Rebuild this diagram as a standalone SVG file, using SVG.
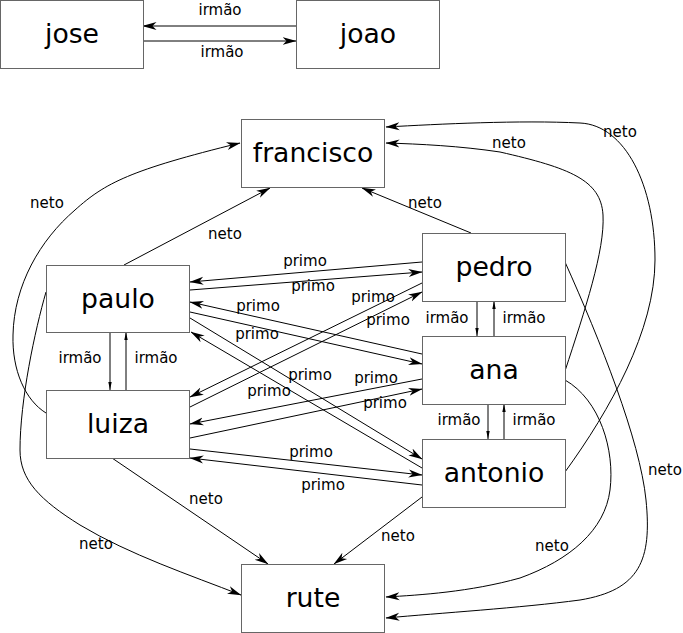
<svg xmlns="http://www.w3.org/2000/svg" width="683" height="633" viewBox="0 0 683 633">
<style>
.box{fill:#fff;stroke:#666;stroke-width:1}
.n{font-family:"DejaVu Sans","Liberation Sans",sans-serif;font-size:26.67px;text-anchor:middle;fill:#000}
.l{font-family:"DejaVu Sans","Liberation Sans",sans-serif;font-size:15px;text-anchor:middle;fill:#000}
.e{fill:none;stroke:#000;stroke-width:1;marker-end:url(#ah)}
.s{fill:none;stroke:#000;stroke-width:1;marker-end:url(#sh)}
</style>
<defs>
<marker id="ah" viewBox="0 0 14 10" markerWidth="14" markerHeight="10" refX="13.5" refY="5" orient="auto" markerUnits="userSpaceOnUse"><path d="M0,1 L14,5 L0,9 L4,5 Z" fill="#000"/></marker>
<marker id="sh" viewBox="0 0 8 4" markerWidth="8" markerHeight="4" refX="8" refY="2" orient="auto" markerUnits="userSpaceOnUse"><path d="M0,0.3 L8,2 L0,3.7 Z" fill="#000"/></marker>
</defs>
<rect width="683" height="633" fill="#fff"/>

<g id="connectors">
<!-- jose / joao -->
<g><path class="e" d="M296,26 L143,26"/><text class="l" x="220" y="15">irmão</text></g>
<g><path class="e" d="M143,41 L296,41"/><text class="l" x="222" y="57">irmão</text></g>

<!-- irmão verticals -->
<g><path class="s" d="M110,332 L110,390"/><text class="l" x="80" y="363">irmão</text></g>
<g><path class="s" d="M126,390 L126,332"/><text class="l" x="156" y="363">irmão</text></g>
<g><path class="s" d="M477,301 L477,336"/><text class="l" x="447" y="323">irmão</text></g>
<g><path class="s" d="M494,336 L494,301"/><text class="l" x="524" y="323">irmão</text></g>
<g><path class="s" d="M488,404 L488,439"/><text class="l" x="459" y="425">irmão</text></g>
<g><path class="s" d="M504,439 L504,404"/><text class="l" x="534" y="425">irmão</text></g>

<!-- primo -->
<g><path class="e" d="M422,262 L190,282"/><text class="l" x="305" y="266">primo</text></g>
<g><path class="e" d="M190,290 L422,272"/><text class="l" x="313" y="291">primo</text></g>
<g><path class="e" d="M422,354 L190,302"/><text class="l" x="258" y="311">primo</text></g>
<g><path class="e" d="M190,312 L422,364"/><text class="l" x="257" y="339">primo</text></g>
<g><path class="e" d="M422,468 L191,332"/><text class="l" x="310" y="380">primo</text></g>
<g><path class="e" d="M190,318 L422,459"/><text class="l" x="269" y="396">primo</text></g>
<g><path class="e" d="M422,283 L190,397"/><text class="l" x="373" y="302">primo</text></g>
<g><path class="e" d="M190,407 L422,292"/><text class="l" x="388" y="325">primo</text></g>
<g><path class="e" d="M422,379 L190,424"/><text class="l" x="376" y="383">primo</text></g>
<g><path class="e" d="M190,438 L422,389"/><text class="l" x="385" y="408">primo</text></g>
<g><path class="e" d="M190,449 L422,475"/><text class="l" x="311" y="457">primo</text></g>
<g><path class="e" d="M422,485 L190,458"/><text class="l" x="323" y="490">primo</text></g>

<!-- neto to francisco -->
<g><path class="e" d="M124,265 L270,188"/><text class="l" x="225" y="239">neto</text></g>
<g><path class="e" d="M471,233 L362,188"/><text class="l" x="425" y="208">neto</text></g>
<g><path class="e" d="M46,413 C25,400 12,370 13,335 C14,285 40,240 75,210 C105,183 130,170 240,143"/><text class="l" x="47" y="208">neto</text></g>
<g><path class="e" d="M565,371 C585,310 605,250 603,215 C601,180 570,168 500,152 C460,146 420,144 386,143"/><text class="l" x="509" y="148">neto</text></g>
<g><path class="e" d="M565,472 C610,410 655,330 655,260 C655,185 625,125 580,123 C520,120 440,124 386,127"/><text class="l" x="620" y="137">neto</text></g>

<!-- neto to rute -->
<g><path class="e" d="M112,458 L268,564"/><text class="l" x="206" y="504">neto</text></g>
<g><path class="e" d="M422,497 L334,564"/><text class="l" x="398" y="541">neto</text></g>
<g><path class="e" d="M46,292 C35,330 20,400 20,450 C20,480 40,500 80,525 C130,555 190,575 241,595"/><text class="l" x="96" y="549">neto</text></g>
<g><path class="e" d="M565,380 C600,400 615,450 610,490 C605,530 570,560 520,578 C470,592 420,595 386,597"/><text class="l" x="552" y="551">neto</text></g>
<g><path class="e" d="M565,262 C600,340 640,440 646,500 C652,560 640,590 580,600 C520,608 440,613 386,618"/><text class="l" x="665" y="475">neto</text></g>
</g>

<g id="node-jose"><rect class="box" x="0.5" y="0.5" width="143" height="68"/><text class="n" x="72" y="43">jose</text></g>
<g id="node-joao"><rect class="box" x="296.5" y="0.5" width="143" height="68"/><text class="n" x="368" y="43">joao</text></g>
<g id="node-francisco"><rect class="box" x="241.5" y="119.5" width="143" height="68"/><text class="n" x="313" y="162">francisco</text></g>
<g id="node-pedro"><rect class="box" x="422.5" y="233.5" width="143" height="68"/><text class="n" x="494" y="276">pedro</text></g>
<g id="node-paulo"><rect class="box" x="46.5" y="265.5" width="143" height="67"/><text class="n" x="118" y="308">paulo</text></g>
<g id="node-ana"><rect class="box" x="422.5" y="336.5" width="143" height="68"/><text class="n" x="494" y="379">ana</text></g>
<g id="node-luiza"><rect class="box" x="46.5" y="390.5" width="143" height="68"/><text class="n" x="118" y="433">luiza</text></g>
<g id="node-antonio"><rect class="box" x="422.5" y="439.5" width="143" height="68"/><text class="n" x="494" y="482">antonio</text></g>
<g id="node-rute"><rect class="box" x="241.5" y="564.5" width="143" height="68"/><text class="n" x="313" y="607">rute</text></g>
</svg>
